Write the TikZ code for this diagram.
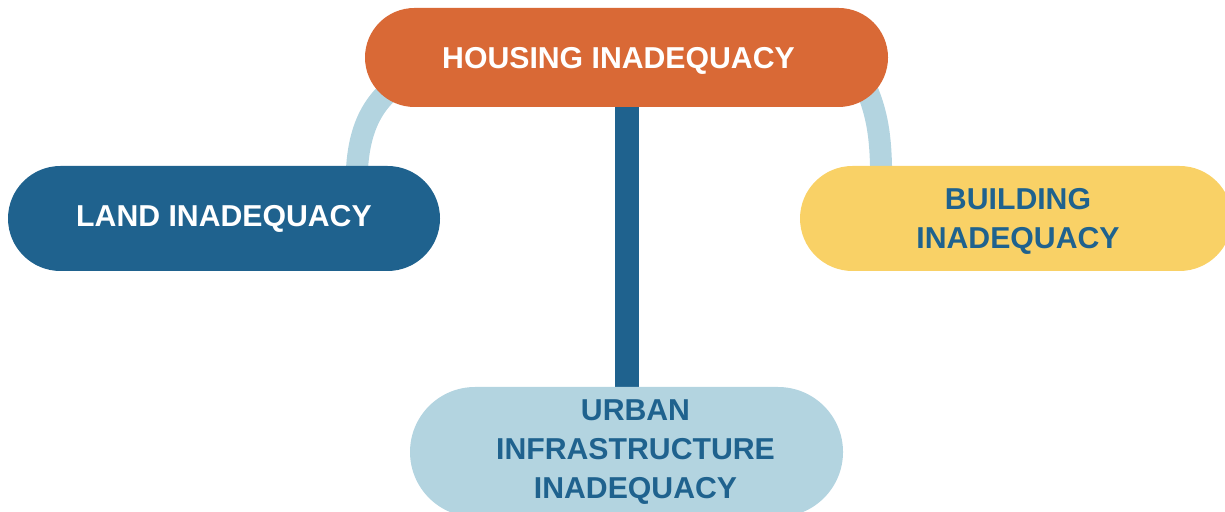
\documentclass[tikz,border=0pt]{standalone}
\usepackage{fontspec}
\setmainfont{Liberation Sans}
\usetikzlibrary{shapes.misc,backgrounds}
\definecolor{housingorange}{HTML}{D96936}
\definecolor{landblue}{HTML}{1F628E}
\definecolor{buildyellow}{HTML}{F9D166}
\definecolor{urbanblue}{HTML}{B3D4E0}
\tikzset{
  pill/.style={rounded rectangle, inner sep=0pt, minimum height=1.05cm,
    minimum width=4.32cm, align=center,
    font=\fontsize{8.6}{11.1}\selectfont\bfseries},
  arm/.style={line width=0.22cm, draw=urbanblue},
  stem/.style={line width=0.24cm, draw=landblue}
}
\begin{document}
\begin{tikzpicture}
    \useasboundingbox (0,0) rectangle (12.25,-5.12);

    % 住宅の不足(オレンジ)
    \node[pill, fill=housingorange, text=white, minimum width=5.23cm,
      minimum height=0.99cm] (housing) at (6.265,-0.575)
      {\raisebox{-0.03cm}[\height][\depth]{HOUSING INADEQUACY}\hspace*{0.16cm}};

    % 土地の不足(濃い青)
    \node[pill, fill=landblue, text=white] (land) at (2.24,-2.185) {LAND INADEQUACY};

    % 建物の不足(黄色)
    \node[pill, fill=buildyellow, text=landblue] (building) at (10.16,-2.185)
      {\hspace*{0.04cm}\raisebox{-0.025cm}[\height][\depth]{BUILDING}\\
       \hspace*{0.04cm}\raisebox{-0.03cm}[\height][\depth]{INADEQUACY}};

    % 都市インフラの不足(薄い青)
    \node[pill, fill=urbanblue, text=landblue, minimum width=4.33cm,
      minimum height=1.30cm] (urban) at (6.265,-4.52)
      {\hspace*{0.18cm}URBAN\\\hspace*{0.18cm}INFRASTRUCTURE\\\hspace*{0.18cm}INADEQUACY};

    % つなぐ線(背面)
    \begin{scope}[on background layer]
      \draw[arm] ([xshift=1.325cm,yshift=-0.2cm]land.north) to[out=90,in=210]
        ([xshift=-2.2cm,yshift=-0.21cm]housing.center);
      \draw[arm] ([xshift=-1.348cm,yshift=-0.2cm]building.north) to[out=90,in=300]
        ([xshift=2.285cm,yshift=-0.085cm]housing.center);
      \draw[stem] (housing.center) -- (urban.center);
    \end{scope}
\end{tikzpicture}
\end{document}
